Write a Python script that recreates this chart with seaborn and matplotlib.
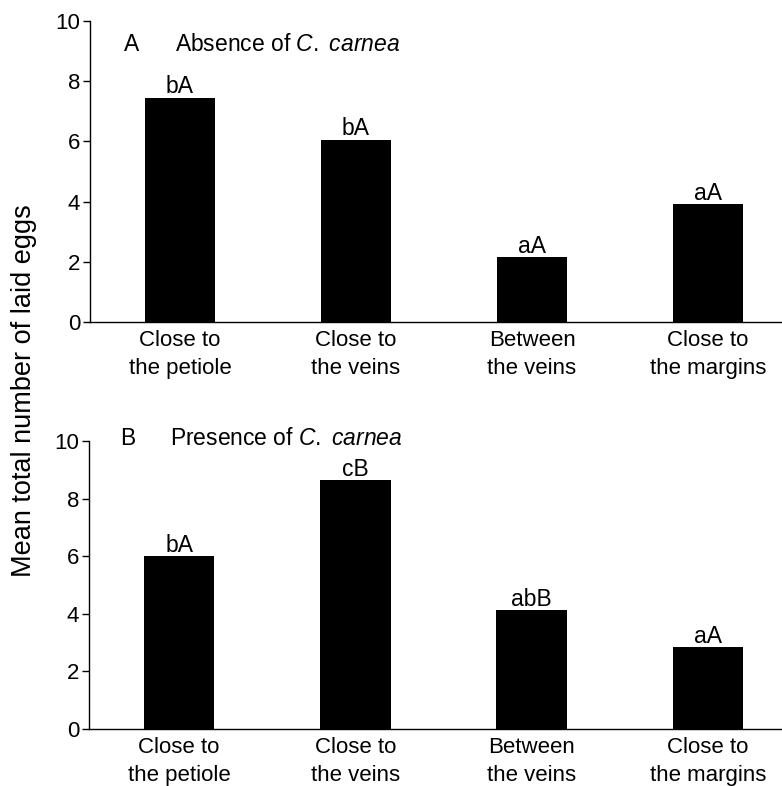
import matplotlib
matplotlib.use("Agg")
import matplotlib.pyplot as plt
import seaborn as sns
import pandas as pd

# Egg-laying site categories and mean egg counts per panel
sites = ["Close to\nthe petiole", "Close to\nthe veins", "Between\nthe veins", "Close to\nthe margins"]
absence_means = [7.45, 6.05, 2.15, 3.92]
presence_means = [6.0, 8.63, 4.12, 2.85]
absence_letters = ["bA", "bA", "aA", "aA"]
presence_letters = ["bA", "cB", "abB", "aA"]
panel_tags = ["A", "B"]
panel_titles = ["Absence of $\\mathit{C.\\ carnea}$", "Presence of $\\mathit{C.\\ carnea}$"]
y_ticks = [0, 2, 4, 6, 8, 10]
y_tick_labels = ["0", "2", "4", "6", "8", "10"]
y_label = "Mean total number of laid eggs"

sns.set_theme(style="ticks")
plt.rcParams["font.family"] = ["Liberation Sans", "DejaVu Sans"]
plt.rcParams["mathtext.fontset"] = "custom"
plt.rcParams["mathtext.rm"] = "Liberation Sans"
plt.rcParams["mathtext.it"] = "Liberation Sans:italic"
plt.rcParams["text.color"] = "black"
plt.rcParams["xtick.color"] = "black"
plt.rcParams["ytick.color"] = "black"

fig = plt.figure(figsize=(7.82, 7.86), dpi=100)
ax_top = fig.add_axes([0.1151, 0.5903, 0.8849, 0.3830])
ax_bot = fig.add_axes([0.1138, 0.0725, 0.8862, 0.3664])

# axes, values, letters, tag x, title x, title baseline y (axes fraction)
panels = [
    (ax_top, absence_means, absence_letters, 0.0607, 0.123, 0.900),
    (ax_bot, presence_means, presence_letters, 0.056, 0.117, 0.986),
]

for idx, (ax, vals, letters, tag_x, title_x, title_y) in enumerate(panels):
    df = pd.DataFrame({"site": sites, "eggs": vals})
    sns.barplot(data=df, x="site", y="eggs", color="black", width=0.40,
                saturation=1, ax=ax, edgecolor="black", linewidth=0)
    for i, (v, lab) in enumerate(zip(vals, letters)):
        ax.text(i, v + 0.15, lab, ha="center", va="baseline", fontsize=16.5)
    ax.set_xlim(-0.511, 3.42)
    ax.set_ylim(0, 10)
    ax.set_yticks(y_ticks)
    ax.set_yticklabels(y_tick_labels, fontsize=16)
    ax.set_xlabel("")
    ax.set_ylabel("")
    sns.despine(ax=ax)
    for side in ("left", "bottom"):
        ax.spines[side].set_linewidth(1.0)
        ax.spines[side].set_color("black")
    ax.tick_params(axis="y", length=5, width=1.0, pad=2, colors="black")
    ax.tick_params(axis="x", length=0, pad=6, labelsize=16, colors="black")
    for t in ax.get_xticklabels():
        t.set_linespacing(1.4)
    ax.text(tag_x, title_y, panel_tags[idx], transform=ax.transAxes,
            ha="center", va="baseline", fontsize=16.5)
    ax.text(title_x, title_y, panel_titles[idx], transform=ax.transAxes,
            ha="left", va="baseline", fontsize=16.5)

fig.text(0.031, 0.503, y_label, rotation=90, ha="center", va="center", fontsize=19.5)

fig.savefig("out.png", dpi=100)
